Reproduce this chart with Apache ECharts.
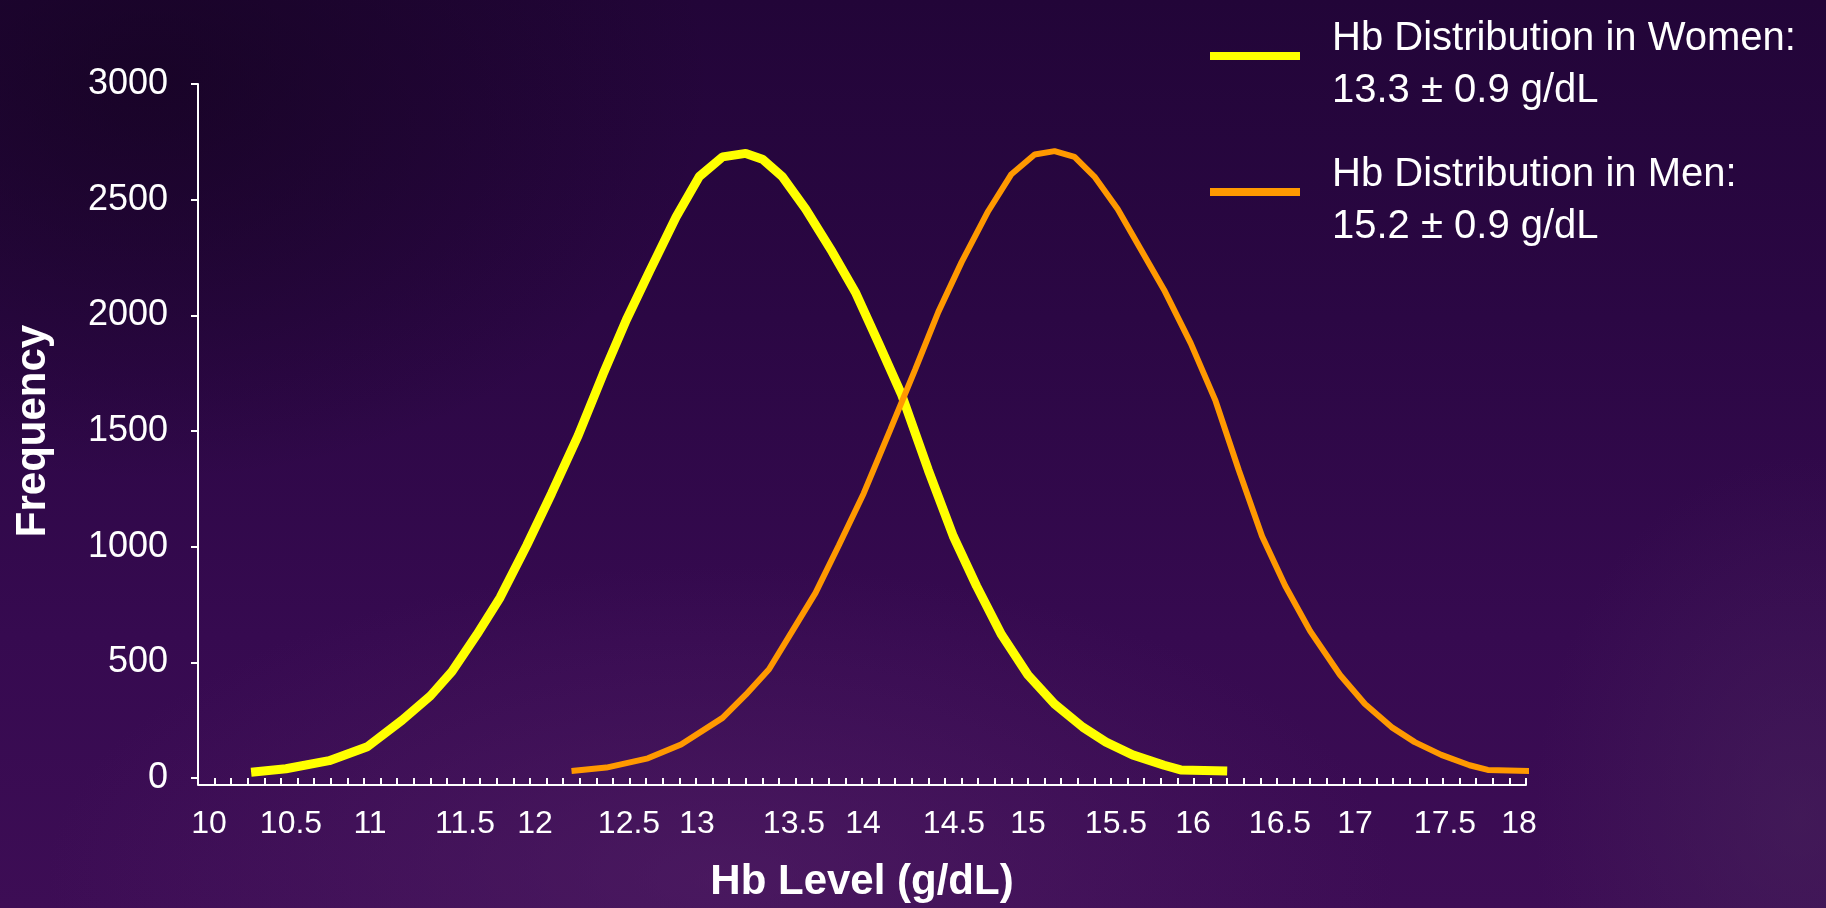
<!DOCTYPE html>
<html>
<head>
<meta charset="utf-8">
<script src="https://cdn.jsdelivr.net/npm/echarts/dist/echarts.min.js"></script>
<style>
html,body{margin:0;padding:0;width:1826px;height:908px;overflow:hidden;background:#2a0742;}
#chart{
  width:1826px;height:908px;
  background:
    radial-gradient(ellipse 900px 420px at 720px 880px, rgba(84,34,104,0.55), rgba(84,34,104,0) 75%),
    radial-gradient(ellipse 380px 520px at 1800px 820px, rgba(72,38,92,0.5), rgba(72,38,92,0) 70%),
    radial-gradient(ellipse 700px 500px at 150px 80px, rgba(20,3,32,0.7), rgba(20,3,32,0) 80%),
    linear-gradient(to bottom, #220538 0%, #2b0744 35%, #360a50 70%, #3d0d55 100%);
}
</style>
</head>
<body>
<div id="chart"></div>
<script>
// Hb level (g/dL) and frequency
const womenX = [10.32,10.53,10.79,11.02,11.23,11.40,11.53,11.68,11.82,11.98,12.13,12.29,12.44,12.58,12.72,12.88,13.02,13.16,13.30,13.40,13.52,13.66,13.82,13.96,14.10,14.24,14.40,14.55,14.69,14.84,15.00,15.16,15.33,15.47,15.63,15.82,15.92,16.20];
const womenY = [25,40,75,135,250,355,460,620,780,1005,1230,1480,1745,1980,2190,2425,2600,2685,2700,2675,2600,2460,2275,2100,1880,1655,1330,1045,830,620,445,320,220,155,100,55,35,30];
const menX = [12.25,12.46,12.71,12.91,13.16,13.30,13.44,13.58,13.72,13.86,14.01,14.17,14.32,14.46,14.60,14.76,14.90,15.04,15.16,15.28,15.40,15.54,15.68,15.82,15.98,16.13,16.27,16.41,16.55,16.70,16.88,17.03,17.19,17.33,17.49,17.66,17.77,18.02];
const menY = [30,45,85,145,260,360,470,635,800,1005,1230,1505,1765,2015,2230,2450,2610,2695,2710,2685,2600,2460,2285,2110,1880,1630,1330,1045,830,635,445,320,220,155,100,55,35,30];
const seriesNames = ['Hb Distribution in Women:\n13.3 \u00B1 0.9 g/dL', 'Hb Distribution in Men:\n15.2 \u00B1 0.9 g/dL'];
const xTitle = 'Hb Level (g/dL)';
const yTitle = 'Frequency';

// styling: small horizontal nudges of x tick labels (px), as placed in the original slide
const xLabelNudge = {'10':11,'10.5':10,'11':6,'11.5':18,'12':5,'12.5':16,'13':1,'13.5':15,'14':1,'14.5':9,'15':0,'15.5':5,'16':-1,'16.5':3,'17':-5,'17.5':2,'18':-7};

const FONT = '"Liberation Sans", Arial, Helvetica, sans-serif';
const chart = echarts.init(document.getElementById('chart'), null, {renderer:'canvas'});
const pairs = (xs, ys) => xs.map((x, i) => [x, ys[i]]);

const xRich = {};
Object.keys(xLabelNudge).forEach((k, i) => {
  const d = xLabelNudge[k];
  xRich['n' + i] = {
    color: '#ffffff', fontSize: 32, fontFamily: FONT,
    padding: d >= 0 ? [0, 0, 0, 2 * d] : [0, -2 * d, 0, 0]
  };
});
const xKeys = Object.keys(xLabelNudge);

chart.setOption({
  backgroundColor: 'transparent',
  animation: false,
  textStyle: {fontFamily: FONT},
  grid: {left: 198, right: 300, top: 84, bottom: 111, containLabel: false},
  legend: {
    orient: 'vertical',
    left: 1205, top: -6,
    itemGap: 24,
    itemWidth: 90, itemHeight: 8,
    icon: 'rect',
    data: seriesNames,
    formatter: name => '{s| }\n' + name.split('\n').map(t => '{a|' + t + '}').join('\n'),
    textStyle: {
      color: '#ffffff', fontFamily: FONT, padding: [0, 0, 0, 27],
      rich: {
        s: {fontSize: 10, lineHeight: 18},
        a: {color: '#ffffff', fontSize: 40, lineHeight: 52, fontFamily: FONT}
      }
    }
  },
  xAxis: {
    type: 'value',
    min: 10, max: 18, interval: 0.5,
    offset: 7,
    name: xTitle,
    nameLocation: 'middle',
    nameGap: 76,
    nameTextStyle: {color: '#ffffff', fontSize: 42, fontWeight: 'bold', fontFamily: FONT},
    axisLine: {show: true, onZero: false, lineStyle: {color: '#ffffff', width: 2}},
    axisTick: {show: true, inside: true, length: 7, lineStyle: {color: '#ffffff', width: 2}},
    minorTick: {show: true, splitNumber: 5, length: 7, lineStyle: {color: '#ffffff', width: 2}},
    axisLabel: {
      color: '#ffffff', fontSize: 32, margin: 23, fontFamily: FONT,
      formatter: v => { const k = String(v); const i = xKeys.indexOf(k); return i >= 0 ? '{n' + i + '|' + k + '}' : k; },
      rich: xRich
    },
    splitLine: {show: false}
  },
  yAxis: {
    type: 'value',
    min: 0, max: 3000, interval: 500,
    name: yTitle,
    nameLocation: 'middle',
    nameRotate: 90,
    nameGap: 144,
    nameTextStyle: {color: '#ffffff', fontSize: 42, fontWeight: 'bold', fontFamily: FONT},
    axisLine: {show: true, lineStyle: {color: '#ffffff', width: 2}},
    axisTick: {show: true, inside: false, length: 7, lineStyle: {color: '#ffffff', width: 2}},
    axisLabel: {color: '#ffffff', fontSize: 36, margin: 30, fontFamily: FONT, formatter: v => String(v)},
    splitLine: {show: false}
  },
  series: [
    {
      name: seriesNames[0], type: 'line', data: pairs(womenX, womenY),
      showSymbol: false, symbol: 'none', smooth: false,
      itemStyle: {color: '#FFFF00'},
      lineStyle: {color: '#FFFF00', width: 9}
    },
    {
      name: seriesNames[1], type: 'line', data: pairs(menX, menY),
      showSymbol: false, symbol: 'none', smooth: false,
      itemStyle: {color: '#FF9900'},
      lineStyle: {color: '#FF9900', width: 6}
    }
  ]
});
</script>
</body>
</html>
